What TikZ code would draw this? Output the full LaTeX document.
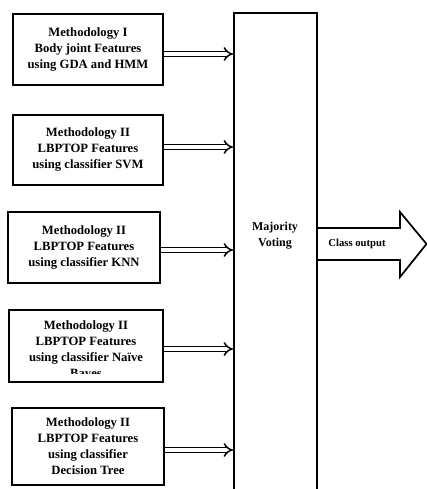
\documentclass[tikz,border=0pt]{standalone}
\usepackage{fontspec}
\setmainfont{Liberation Serif}
\usetikzlibrary{arrows.meta}
\begin{document}
\begin{tikzpicture}[x=0.75pt,y=-0.75pt,
  mbox/.style={draw,line width=1.5pt,rectangle,inner sep=0pt},
  mtext/.style={align=center,font=\bfseries\fontsize{9.5}{12}\selectfont},
  dbl/.style={double,double distance=2.4pt,line width=1.1pt,-{Implies}}]
\useasboundingbox (0,0) rectangle (427,489);
\fill[white] (0,0) rectangle (427,489);
% method boxes
\node[mbox,minimum width=150*0.75pt,minimum height=71*0.75pt] (b1) at (88,49.5) {};
\node[mtext] (t1) at (88,50) {Methodology I\\Body joint Features\\using GDA and HMM};
\node[mbox,minimum width=150*0.75pt,minimum height=70*0.75pt] (b2) at (88,150) {};
\node[mtext] (t2) at (88,150) {Methodology II\\LBPTOP Features\\using classifier SVM};
\node[mbox,minimum width=152*0.75pt,minimum height=71*0.75pt] (b3) at (84,247.5) {};
\node[mtext] (t3) at (84,247) {Methodology II\\LBPTOP Features\\using classifier KNN};
\begin{scope}
\clip (9,308) rectangle (163,373);
\node[mtext] (t4) at (86,350.5) {Methodology II\\LBPTOP Features\\using classifier Naïve\\Bayes};
\end{scope}
\node[mbox,minimum width=154*0.75pt,minimum height=72*0.75pt] (b4) at (86,346) {};
\node[mbox,minimum width=152*0.75pt,minimum height=77*0.75pt] (b5) at (88,446.5) {};
\node[mtext] (t5) at (88,446) {Methodology II\\LBPTOP Features\\using classifier\\Decision Tree};
% majority voting
\node[mbox,minimum width=83*0.75pt,minimum height=490*0.75pt] (mv) at (275.5,258) {};
\node[mtext,font=\bfseries\fontsize{9}{12}\selectfont] (mvt) at (275,236) {Majority\\Voting};
% connectors
\draw[dbl] (b1.east |- 0,54) -- (mv.west |- 0,54);
\draw[dbl] (b2.east |- 0,147) -- (mv.west |- 0,147);
\draw[dbl] (b3.east |- 0,250) -- (mv.west |- 0,250);
\draw[dbl] (b4.east |- 0,349) -- (mv.west |- 0,349);
\draw[dbl] (b5.east |- 0,450) -- (mv.west |- 0,450);
% output arrow
\draw[line width=1.3pt,line join=miter] (mv.east |- 0,228) -- (400,228) -- (400,212) -- (426.5,244) -- (400,277) -- (400,260) -- (mv.east |- 0,260);
\node[font=\bfseries\fontsize{8}{10}\selectfont] (co) at (357,244) {Class output};
\end{tikzpicture}
\end{document}
